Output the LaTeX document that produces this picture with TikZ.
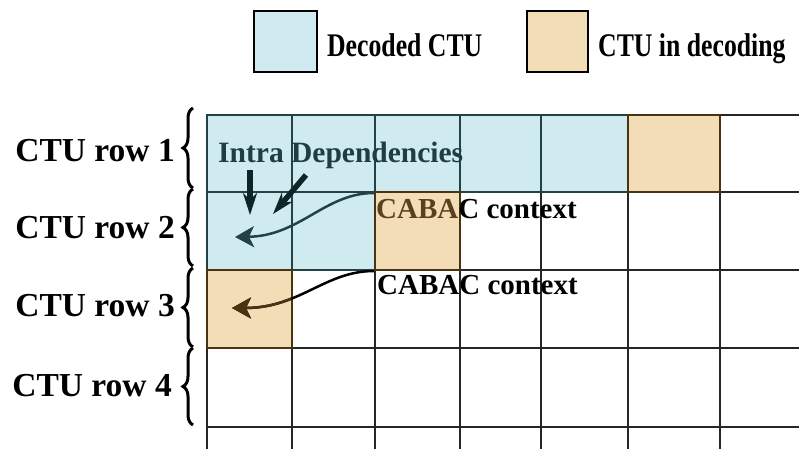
\documentclass[tikz,border=0pt]{standalone}
\usepackage{fontspec}
\setmainfont{Liberation Serif}
\usetikzlibrary{decorations.pathreplacing,arrows.meta}

\definecolor{decodedfill}{RGB}{207,235,239}
\definecolor{decodingfill}{RGB}{243,221,183}
\definecolor{tealtext}{RGB}{31,61,67}
\definecolor{tealdark}{RGB}{12,38,40}
\definecolor{tealline}{RGB}{35,66,72}
\definecolor{browntext}{RGB}{90,64,30}
\definecolor{brownline}{RGB}{74,51,16}
\definecolor{gridgray}{RGB}{38,38,38}

\begin{document}
\begin{tikzpicture}[x=1pt, y=-1pt, >=Stealth,
    gridline/.style={gridgray, line width=2.3pt},
    decoded/.style={fill=decodedfill, draw=tealline, line width=2.3pt},
    decoding/.style={fill=decodingfill, draw=brownline, line width=2.3pt},
    legendbox/.style={draw=black, line width=2.5pt},
    rowlabel/.style={font=\bfseries\fontsize{33.5}{36}\selectfont, inner sep=0pt, anchor=base east},
    legendlabel/.style={font=\bfseries\fontsize{33}{36}\selectfont, inner sep=0pt, anchor=base west, xscale=0.78},
    ctxlabel/.style={font=\bfseries\fontsize{29}{32}\selectfont, inner sep=0pt, anchor=base west},
    rowbrace/.style={decorate, decoration={brace, amplitude=10pt}, line width=3pt},
    intraarrow/.style={tealdark, line width=5.5pt, -{Stealth[length=22pt, width=14pt]}},
    ctxarrow/.style={line width=2.5pt, -{Stealth[length=19pt, width=21pt, inset=5pt]}}]
  \useasboundingbox (0,0) rectangle (799,449);

  % legend
  \draw[legendbox, fill=decodedfill] (254,11) rectangle (317,72);
  \node[legendlabel] (dtext) at (327,57) {Decoded CTU};
  \draw[legendbox, fill=decodingfill] (527,11) rectangle (588,72);
  \node[legendlabel] (itext) at (598,57) {CTU in decoding};

  % grid of CTUs
  \foreach \x in {207,292,375,460,541,628,720}
    \draw[gridline] (\x,115) -- (\x,449);
  \foreach \y in {115,192,270,348,427}
    \draw[gridline] (207,\y) -- (799,\y);
  \foreach \xa/\ya/\xb/\yb in {207/115/292/192, 292/115/375/192, 375/115/460/192,
      460/115/541/192, 541/115/628/192, 207/192/292/270, 292/192/375/270}
    \draw[decoded] (\xa,\ya) rectangle (\xb,\yb);
  \foreach \xa/\ya/\xb/\yb in {628/115/720/192, 375/192/460/270, 207/270/292/348}
    \draw[decoding] (\xa,\ya) rectangle (\xb,\yb);

  % row labels
  \node[rowlabel] (row1) at (175,161) {CTU row 1};
  \node[rowlabel] (row2) at (175,238) {CTU row 2};
  \node[rowlabel] (row3) at (175,316) {CTU row 3};
  \node[rowlabel] (row4) at (172,396) {CTU row 4};
  \draw[rowbrace] (193,188) -- (193,108);
  \draw[rowbrace] (193,266) -- (193,189);
  \draw[rowbrace] (193,347) -- (193,268);
  \draw[rowbrace] (193,425) -- (193,348);

  % intra dependencies
  \node[ctxlabel, tealtext, font=\bfseries\fontsize{29.5}{32}\selectfont] (intra) at (218,163) {Intra Dependencies};
  \coordinate (up) at (250,170);
  \coordinate (upend) at (250,215);
  \coordinate (diag) at (306,175);
  \coordinate (diagend) at (273,214);
  \draw[intraarrow] (up) -- (upend);
  \draw[intraarrow] (diag) -- (diagend);

  % CABAC context
  \node[ctxlabel] (ctx2) at (376,218) {\color{browntext}CABA\color{black}C context};
  \node[ctxlabel] (ctx3) at (377,294) {CABAC context};
  \coordinate (src2) at (374,193);
  \coordinate (dst2) at (235,237);
  \coordinate (src3) at (374,271);
  \coordinate (dst3) at (232,308);
  \draw[ctxarrow, tealline] (src2) .. controls (325,193) and (300,236) .. (dst2);
  \draw[ctxarrow, black] (src3) .. controls (325,271) and (300,308) .. (dst3);
  \begin{scope}
    \clip (208,271) rectangle (291,347);
    \draw[ctxarrow, brownline] (src3) .. controls (325,271) and (300,308) .. (dst3);
  \end{scope}
\end{tikzpicture}
\end{document}
